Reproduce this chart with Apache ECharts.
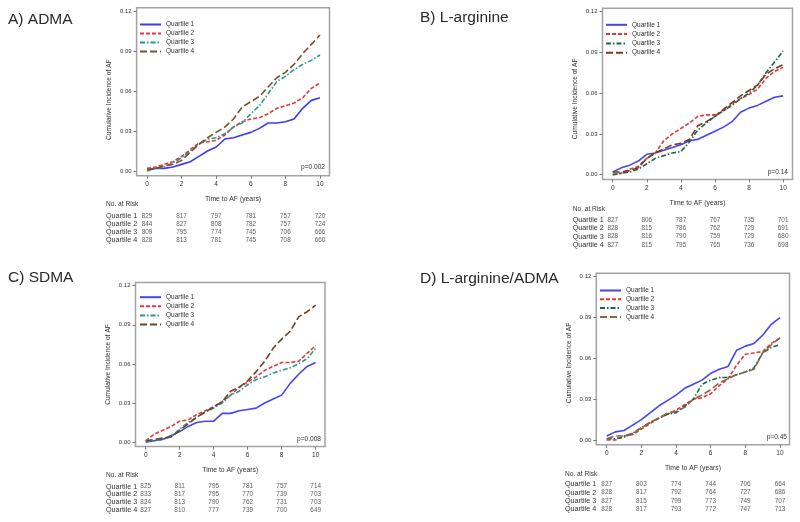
<!DOCTYPE html>
<html><head><meta charset="utf-8">
<script src="https://cdn.jsdelivr.net/npm/echarts@6/dist/echarts.min.js"></script>
<style>html,body{margin:0;padding:0;background:#fff}#c{width:800px;height:522px}</style>
</head><body><div id="c"></div><script>
// ---- data ----
const years = [0,0.5,1,1.5,2,2.5,3,3.5,4,4.5,5,5.5,6,6.5,7,7.5,8,8.5,9,9.5,10];
const quartiles = ['Quartile 1','Quartile 2','Quartile 3','Quartile 4'];
const xTicks = [0,2,4,6,8,10];
const yTicks = [0,0.03,0.06,0.09,0.12];
const riskTimes = [0,2,4,6,8,10];
const panelTitles = ['A) ADMA','B) L-arginine','C) SDMA','D) L-arginine/ADMA'];
const pValues = ['p=0.002','p=0.14','p=0.008','p=0.45'];

const admaQ1 = [0.001,0.002,0.002,0.003,0.005,0.007,0.011,0.015,0.018,0.024,0.025,0.027,0.029,0.032,0.036,0.036,0.037,0.039,0.047,0.053,0.055];
const admaQ2 = [0.002,0.003,0.005,0.007,0.011,0.016,0.021,0.022,0.023,0.027,0.033,0.037,0.039,0.040,0.043,0.047,0.049,0.051,0.055,0.062,0.066];
const admaQ3 = [0.000,0.002,0.003,0.006,0.010,0.015,0.020,0.024,0.025,0.028,0.033,0.036,0.043,0.049,0.058,0.067,0.071,0.076,0.080,0.083,0.087];
const admaQ4 = [0.001,0.002,0.004,0.005,0.008,0.014,0.020,0.025,0.029,0.033,0.039,0.048,0.052,0.056,0.063,0.070,0.074,0.080,0.088,0.095,0.102];

const argQ1 = [0.002,0.005,0.007,0.010,0.015,0.016,0.018,0.020,0.022,0.025,0.026,0.029,0.032,0.035,0.039,0.046,0.049,0.051,0.054,0.057,0.058];
const argQ2 = [0.000,0.001,0.004,0.006,0.012,0.016,0.025,0.030,0.034,0.038,0.043,0.044,0.044,0.047,0.052,0.056,0.059,0.063,0.071,0.076,0.079];
const argQ3 = [0.000,0.001,0.002,0.004,0.008,0.012,0.014,0.016,0.017,0.024,0.033,0.038,0.043,0.047,0.051,0.056,0.060,0.066,0.075,0.083,0.091];
const argQ4 = [0.002,0.002,0.003,0.005,0.012,0.016,0.019,0.022,0.023,0.026,0.036,0.039,0.043,0.048,0.053,0.058,0.062,0.066,0.074,0.078,0.081];

const sdmaQ1 = [0.000,0.001,0.002,0.005,0.008,0.012,0.015,0.016,0.016,0.022,0.022,0.024,0.025,0.026,0.030,0.033,0.036,0.045,0.052,0.058,0.061];
const sdmaQ2 = [0.001,0.006,0.009,0.012,0.016,0.017,0.021,0.024,0.027,0.031,0.036,0.042,0.046,0.050,0.055,0.058,0.061,0.061,0.062,0.068,0.074];
const sdmaQ3 = [0.000,0.001,0.002,0.004,0.010,0.015,0.019,0.023,0.026,0.030,0.036,0.039,0.044,0.048,0.050,0.053,0.055,0.057,0.060,0.064,0.072];
const sdmaQ4 = [0.001,0.002,0.003,0.004,0.009,0.014,0.019,0.023,0.027,0.031,0.039,0.042,0.047,0.054,0.062,0.072,0.079,0.085,0.096,0.100,0.105];

const ratioQ1 = [0.003,0.006,0.007,0.011,0.015,0.020,0.025,0.029,0.033,0.038,0.041,0.044,0.049,0.052,0.054,0.066,0.069,0.071,0.077,0.085,0.090];
const ratioQ2 = [0.000,0.000,0.003,0.004,0.008,0.012,0.016,0.019,0.022,0.026,0.030,0.031,0.034,0.040,0.045,0.055,0.063,0.064,0.065,0.071,0.075];
const ratioQ3 = [0.001,0.001,0.002,0.005,0.009,0.013,0.016,0.019,0.020,0.025,0.030,0.041,0.044,0.046,0.046,0.048,0.050,0.053,0.064,0.068,0.070];
const ratioQ4 = [0.001,0.003,0.003,0.005,0.009,0.013,0.016,0.020,0.021,0.024,0.030,0.033,0.037,0.042,0.045,0.048,0.050,0.052,0.064,0.070,0.075];

const admaRisk  = [[829,817,797,781,757,720],[844,827,808,782,757,724],[809,795,774,745,706,666],[828,813,781,745,708,660]];
const argRisk   = [[827,806,787,767,735,701],[828,815,786,762,729,691],[828,816,790,759,729,680],[827,815,795,765,736,698]];
const sdmaRisk  = [[825,811,795,781,757,714],[833,817,795,770,739,703],[824,813,790,762,731,703],[827,810,777,739,700,649]];
const ratioRisk = [[827,803,774,744,706,664],[828,817,792,764,727,686],[827,815,799,773,749,707],[828,817,793,772,747,713]];

// ---- layout / style ----
const panels = [
  {key:'A', curves:[admaQ1,admaQ2,admaQ3,admaQ4], risk:admaRisk,
   colors:['#3a3af2','#e0383e','#23998a','#7b5230'],
   plot:{left:136.6,top:7.7,width:192.9,height:168}, table:{top:212,height:32}, labMargin:30.6,
   noRisk:[106,204], title:[8,12], legend:[139,21], legendGap:2, p:[325,166.7], yNameShift:16},
  {key:'B', curves:[argQ1,argQ2,argQ3,argQ4], risk:argRisk,
   colors:['#4545f5','#e0383e','#17694a','#7a3a1c'],
   plot:{left:602.5,top:8.3,width:190,height:171.1}, table:{top:215.8,height:33.3}, labMargin:29.8,
   noRisk:[572.7,209.3], title:[420,10], legend:[605,21.3], legendGap:2.3, p:[788,171.7], yNameShift:10},
  {key:'C', curves:[sdmaQ1,sdmaQ2,sdmaQ3,sdmaQ4], risk:sdmaRisk,
   colors:['#4545f5','#e0383e','#23998a','#6b4526'],
   plot:{left:135.5,top:282.4,width:189.5,height:164.2}, table:{top:482.8,height:31}, labMargin:29.5,
   noRisk:[106,475], title:[8,270], legend:[139,293.7], legendGap:2.1, p:[321,439], yNameShift:0},
  {key:'D', curves:[ratioQ1,ratioQ2,ratioQ3,ratioQ4], risk:ratioRisk,
   colors:['#4545f5','#e0383e','#17694a','#8a6644'],
   plot:{left:596.3,top:273.3,width:193.2,height:171.5}, table:{top:480.2,height:32.9}, labMargin:31.3,
   noRisk:[565,474.3], title:[420,271], legend:[599,287], legendGap:1.8, p:[787,436.7], yNameShift:8}
];
const dashes = ['solid',[4,2],[5,2,1.5,2],[7,3]];
const FONT = '"Liberation Sans", Arial, sans-serif';
const TXT = '#333';
const X_MIN = -0.6, X_MAX = 10.55, Y_MIN = -0.0035, Y_MAX = 0.1225;

const grid = [], xAxis = [], yAxis = [], series = [], legend = [], title = [], graphic = [];
panels.forEach((pn, i) => {
  const gPlot = i*2, gTab = i*2+1;
  grid.push({left:pn.plot.left, top:pn.plot.top, width:pn.plot.width, height:pn.plot.height,
    show:true, borderColor:'#a3a3a3', borderWidth:1.5, backgroundColor:'transparent'});
  grid.push({left:pn.plot.left, top:pn.table.top, width:pn.plot.width, height:pn.table.height, show:false});
  xAxis.push({gridIndex:gPlot, type:'value', min:X_MIN, max:X_MAX,
    axisLine:{show:false, onZero:false}, splitLine:{show:false},
    axisTick:{show:true, customValues:xTicks, length:3, lineStyle:{color:'#777', width:1}},
    axisLabel:{customValues:xTicks, fontSize:6.5, margin:5, color:TXT, fontFamily:FONT},
    name:'Time to AF (years)', nameLocation:'middle', nameGap:20,
    nameTextStyle:{fontSize:6.8, color:TXT, fontFamily:FONT}});
  xAxis.push({gridIndex:gTab, type:'value', min:X_MIN, max:X_MAX, show:false});
  yAxis.push({gridIndex:gPlot, type:'value', min:Y_MIN, max:Y_MAX,
    axisLine:{show:false, onZero:false}, splitLine:{show:false},
    axisTick:{show:true, customValues:yTicks, length:3, lineStyle:{color:'#777', width:1}},
    axisLabel:{customValues:yTicks, fontSize:6, margin:5, color:TXT, fontFamily:FONT,
      formatter:v => v.toFixed(2)},
    name:'Cumulative Incidence of AF', nameLocation:'middle', nameGap:24, nameRotate:90,
    nameTextStyle:{fontSize:6.6, color:TXT, fontFamily:FONT, padding:[0, pn.yNameShift, 0, 0]}});
  yAxis.push({gridIndex:gTab, type:'category', data:quartiles, inverse:true,
    axisLine:{show:false}, axisTick:{show:false}, splitLine:{show:false},
    axisLabel:{interval:0, align:'left', margin:pn.labMargin, fontSize:7.2, color:TXT, fontFamily:FONT}});
  const names = [];
  pn.curves.forEach((c, q) => {
    const nm = pn.key + '|' + quartiles[q];
    names.push(nm);
    series.push({type:'line', name:nm, xAxisIndex:gPlot, yAxisIndex:gPlot,
      symbol:'none', showSymbol:false, silent:true,
      data: years.map((t, k) => [t, c[k]]),
      lineStyle:{color:pn.colors[q], width:1.6, type:dashes[q]},
      itemStyle:{color:pn.colors[q]}, z: 3+q});
  });
  // numbers at risk
  const tdata = [];
  pn.risk.forEach((row, r) => row.forEach((v, k) => tdata.push([riskTimes[k], r, v])));
  series.push({type:'scatter', xAxisIndex:gTab, yAxisIndex:gTab, symbolSize:1, silent:true,
    itemStyle:{color:'rgba(0,0,0,0)'}, data:tdata,
    label:{show:true, position:'inside', formatter:p => String(p.value[2]), fontSize:6.4,
      color:TXT, fontFamily:FONT}});
  legend.push({data:names, orient:'vertical', left:pn.legend[0], top:pn.legend[1], padding:0,
    itemWidth:21, itemHeight:6, itemGap:pn.legendGap, selectedMode:false,
    itemStyle:{opacity:0, borderWidth:0},
    formatter:n => n.split('|')[1],
    textStyle:{fontSize:6.5, color:TXT, fontFamily:FONT, lineHeight:6}});
  title.push({text:panelTitles[i], left:pn.title[0], top:pn.title[1], padding:0,
    textStyle:{fontSize:15.5, fontWeight:'normal', color:'#2a2a2a', fontFamily:FONT}});
  graphic.push({type:'text', x:pn.p[0], y:pn.p[1], silent:true,
    style:{text:pValues[i], align:'right', verticalAlign:'middle', fill:TXT, font:'6.6px ' + FONT}});
  graphic.push({type:'text', x:pn.noRisk[0], y:pn.noRisk[1], silent:true,
    style:{text:'No. at Risk', align:'left', verticalAlign:'middle', fill:TXT, font:'6.6px ' + FONT}});
});

const chart = echarts.init(document.getElementById('c'), null, {renderer:'canvas'});
chart.setOption({backgroundColor:'#fff', animation:false, textStyle:{fontFamily:FONT},
  title, grid, xAxis, yAxis, series, legend, graphic});
</script></body></html>
